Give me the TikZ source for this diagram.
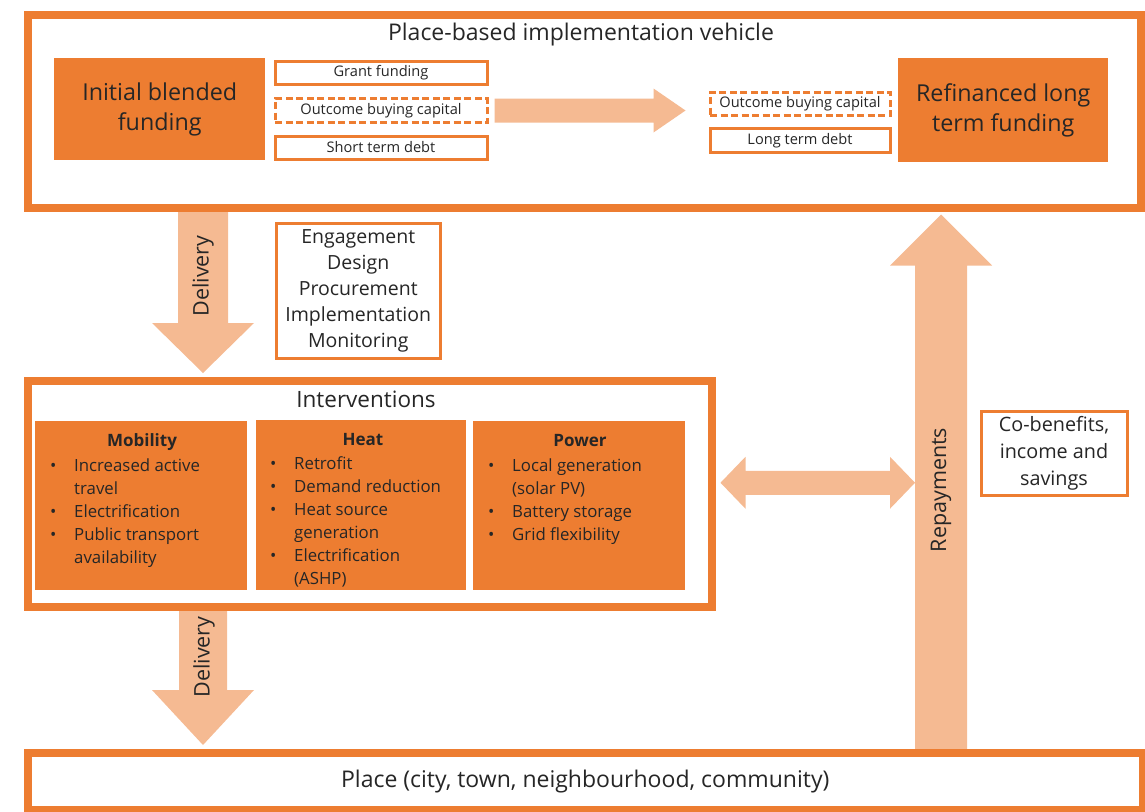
\documentclass[tikz,border=0pt]{standalone}
\usepackage{fontspec}
\setmainfont{Open Sans}
\usetikzlibrary{calc,backgrounds}
\definecolor{accent}{HTML}{ED7D31}
\definecolor{pale}{HTML}{F5BA92}
\definecolor{ink}{HTML}{262626}

% straight block arrow: tail, tip, shaft half-width, head half-width, head length
\newcommand\blockarrow[5]{%
  \coordinate (ba-b) at ($(#2)!#5pt!(#1)$);
  \fill[pale] ($(#1)!#3pt!90:(#2)$) -- ($(ba-b)!#3pt!90:(#2)$) -- ($(ba-b)!#4pt!90:(#2)$)
    -- (#2) -- ($(ba-b)!#4pt!-90:(#2)$) -- ($(ba-b)!#3pt!-90:(#2)$) -- ($(#1)!#3pt!-90:(#2)$) -- cycle;}
% two-headed block arrow
\newcommand\twowayarrow[5]{%
  \coordinate (ba-p) at ($(#1)!#5pt!(#2)$);
  \coordinate (ba-q) at ($(#2)!#5pt!(#1)$);
  \fill[pale] (#1) -- ($(ba-p)!#4pt!90:(#2)$) -- ($(ba-p)!#3pt!90:(#2)$) -- ($(ba-q)!#3pt!-90:(#1)$)
    -- ($(ba-q)!#4pt!-90:(#1)$) -- (#2) -- ($(ba-q)!#4pt!90:(#1)$) -- ($(ba-q)!#3pt!90:(#1)$)
    -- ($(ba-p)!#3pt!-90:(#2)$) -- ($(ba-p)!#4pt!-90:(#2)$) -- cycle;}

\begin{document}
\begin{tikzpicture}[x=1pt,y=-1pt,
  every node/.style={text=ink},
  frame/.style={draw=accent, line width=7.5pt, fill=white, inner sep=0pt, anchor=north west},
  tag/.style={draw=accent, line width=3pt, fill=white, inner sep=0pt, anchor=north west,
    font=\fontsize{14.6}{16}\selectfont},
  dtag/.style={tag, dash pattern=on 7pt off 3.5pt},
  solidbox/.style={fill=accent, inner sep=0pt, anchor=north west, align=center},
  bigtext/.style={font=\fontsize{23.3}{30}\selectfont},
  outline/.style={draw=accent, line width=3pt, fill=white, inner sep=0pt, anchor=north west},
  head/.style={font=\fontsize{17}{20}\bfseries\selectfont, anchor=base},
  lst/.style={font=\fontsize{16.8}{23}\selectfont, anchor=base west, inner sep=0pt},
  arrowlabel/.style={font=\fontsize{21.5}{24}\selectfont, rotate=90}]
\useasboundingbox (0,0) rectangle (1145,811);

% ---- implementation vehicle ----
\node[frame, minimum width=1113pt, minimum height=193pt] (vehicle) at (24,11) {};
\node[font=\fontsize{23}{27}\selectfont] (vtitle) at (581,35) {Place-based implementation vehicle};
\node[solidbox, bigtext, minimum width=211pt, minimum height=102pt] (initial) at (54,58) {Initial blended\\funding};
\node[tag, minimum width=212pt, minimum height=23pt] (grant) at (273.5,59.5) {Grant funding};
\node[dtag, minimum width=212pt, minimum height=24pt] (obc1) at (273.5,97) {Outcome buying capital};
\node[tag, minimum width=212pt, minimum height=23pt] (short) at (273.5,134.5) {Short term debt};
\node[dtag, minimum width=180pt, minimum height=23.5pt] (obc2) at (708.5,90.5) {Outcome buying capital};
\node[tag, minimum width=180pt, minimum height=24.5pt] (long) at (708.5,126.5) {Long term debt};
\node[solidbox, bigtext, minimum width=210pt, minimum height=104pt] (refin) at (898,58) {Refinanced long\\term funding};
% capital carried over to the refinanced stack
\blockarrow{$(obc1.east)+(6,0)$}{$(obc1.east -| obc2.west)+(-23,0)$}{12}{22}{32}

% ---- delivery steps ----
\node[outline, minimum width=164.5pt, minimum height=135.5pt] (steps) at (274.5,221.5) {};
\node[font=\fontsize{19.5}{26}\selectfont, align=center] (stepstext) at (steps.center)
  {Engagement\\Design\\Procurement\\Implementation\\Monitoring};

% ---- interventions ----
\node[frame, minimum width=684pt, minimum height=226pt] (interv) at (24,377) {};
\node[font=\fontsize{22.5}{26}\selectfont] (ititle) at (366,399) {Interventions};

\node[solidbox, minimum width=212pt, minimum height=169pt] (mob) at (35,421) {};
\node[solidbox, minimum width=210pt, minimum height=170pt] (heat) at (256,420) {};
\node[solidbox, minimum width=212pt, minimum height=169pt] (power) at (473,421) {};

\node[head] (mobh) at (142,446) {Mobility};
\node[head] (heath) at (363,445) {Heat};
\node[head] (powh) at (580,446) {Power};

\node[lst] (mobl) at (50,471) {\begin{tabular}[t]{@{}p{24pt}@{}l@{}}
  •&Increased active\\ &travel\\ •&Electrification\\ •&Public transport\\ &availability\end{tabular}};
\node[lst] (heatl) at (270,469) {\begin{tabular}[t]{@{}p{24pt}@{}l@{}}
  •&Retrofit\\ •&Demand reduction\\ •&Heat source\\ &generation\\ •&Electrification\\ &(ASHP)\end{tabular}};
\node[lst] (powl) at (488,471) {\begin{tabular}[t]{@{}p{24pt}@{}l@{}}
  •&Local generation\\ &(solar PV)\\ •&Battery storage\\ •&Grid flexibility\end{tabular}};

% ---- co-benefits ----
\node[outline, minimum width=146pt, minimum height=84pt] (cob) at (979.5,409.5) {};
\node[font=\fontsize{19.8}{27}\selectfont, align=center] (cobtext) at (cob.center)
  {Co-benefits,\\income and\\savings};

% ---- place ----
\node[frame, minimum width=1115pt, minimum height=57pt] (place) at (24,749) {};
\node[font=\fontsize{23}{27}\selectfont] (placetext) at (place.center) {Place (city, town, neighbourhood, community)};

% ---- block arrows between the frames ----
\coordinate (dx) at (203,0);
\coordinate (rx) at (941,0);
\begin{scope}[on background layer]
  \blockarrow{dx |- vehicle.south}{$(dx |- interv.north)+(0,-4)$}{25}{51}{50}
  \blockarrow{dx |- interv.south}{$(dx |- place.north)+(0,-4)$}{24}{51}{55}
  \blockarrow{rx |- place.north}{$(rx |- vehicle.south)+(0,3)$}{26}{51}{51}
  \twowayarrow{$(interv.east)+(5,-11)$}{$(rx |- interv.east)+(-26,-11)$}{12}{26}{25}
\end{scope}
\node[arrowlabel] (del1) at (203,276) {Delivery};
\node[arrowlabel] (del2) at (204,657) {Delivery};
\node[arrowlabel] (repay) at (941,490) {Repayments};
\end{tikzpicture}
\end{document}
